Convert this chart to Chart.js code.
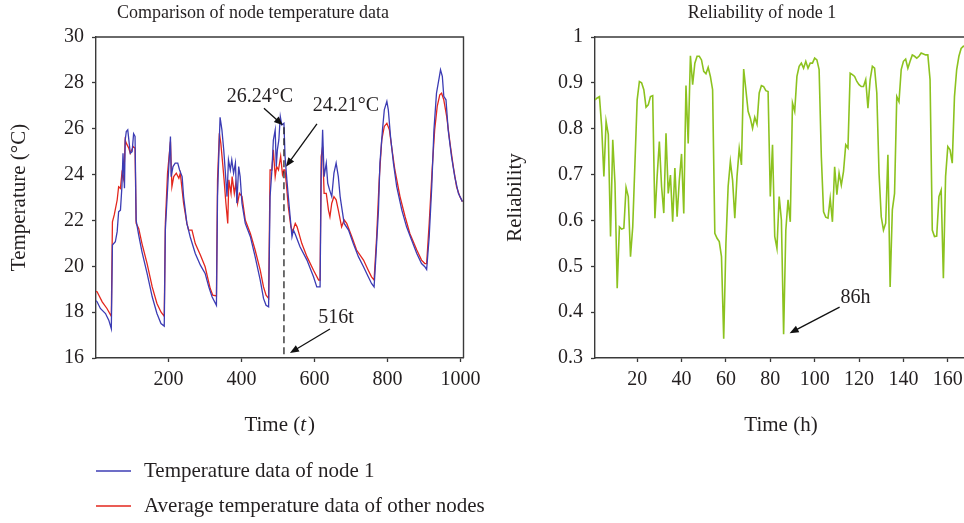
<!DOCTYPE html>
<html><head><meta charset="utf-8">
<script src="https://cdn.jsdelivr.net/npm/chart.js@4.4.1/dist/chart.umd.min.js"></script>
<style>
html,body{margin:0;padding:0;background:#fff;overflow:hidden;width:964px;height:523px;}
#c1{position:absolute;left:0;top:0;}
#c2{position:absolute;left:490px;top:0;}
</style></head><body>
<canvas id="c1" width="490" height="523"></canvas>
<canvas id="c2" width="490" height="523"></canvas>
<script>
// ---------- data: left chart ----------
const node1Time = [1,4,13,27,36,43,46,54,59,63,68,72,75,79,81,84,88,92,95,100,104,108,111,118,127,141,155,168,179,188,
191,196,200,205,207,212,218,225,230,237,241,250,259,273,287,300,310,319,331,
334,338,341,346,351,355,360,364,369,373,378,383,387,392,396,401,410,424,437,451,460,467,474,
478,483,487,492,495,498,502,506,510,516,519,524,528,533,538,542,547,560,579,597,606,615,
618,622,626,632,636,641,647,653,659,665,670,674,681,693,706,720,734,747,756,763,
768,775,779,786,791,798,802,808,816,825,839,852,866,880,893,902,907,
914,921,927,934,942,945,950,954,960,966,975,984,994,1005];
const node1Temp = [18.5,18.45,18.16,17.94,17.65,17.28,20.93,21.07,21.51,22.38,22.45,23.47,24.93,23.4,25.5,25.88,25.95,25.37,24.93,25.0,25.78,25.66,22.0,21.36,20.63,19.69,18.67,17.94,17.5,17.39,
21.58,23.04,24.2,25.66,23.91,24.35,24.5,24.5,24.2,23.91,23.04,21.87,21.29,20.56,20.05,19.69,19.1,18.67,18.3,
23.04,25.08,26.5,25.95,25.08,24.2,23.04,24.64,24.2,24.64,24.06,24.5,22.75,24.35,23.91,22.75,21.87,21.29,20.42,19.4,18.6,18.3,18.23,
23.04,24.2,25.51,25.95,24.35,25.08,25.51,26.53,26.17,26.24,24.8,23.77,23.04,22.16,21.29,21.58,21.4,20.85,20.27,19.54,19.1,19.1,
23.91,25.95,23.91,24.5,23.62,23.33,23.04,24.06,24.5,23.91,23.04,22.6,21.87,21.58,20.99,20.42,19.98,19.54,19.25,19.1,
20.42,22.45,24.5,25.95,26.82,27.19,26.82,25.66,24.5,23.47,22.45,21.72,21.14,20.56,20.12,19.98,19.86,
21.29,23.47,25.95,27.55,28.28,28.57,28.28,27.41,27.26,25.95,24.8,23.91,23.18,22.82];
const avgTime = [1,4,18,31,43,46,51,59,63,68,72,77,81,84,91,95,103,108,111,118,127,141,155,168,179,188,
191,197,205,209,214,221,228,232,241,250,255,264,273,287,300,314,321,331,
334,339,343,348,352,357,362,365,371,374,380,384,389,394,401,410,424,437,451,460,467,474,
478,483,487,492,496,501,507,512,516,519,524,528,535,540,547,552,565,579,597,611,615,
618,622,626,632,638,642,647,653,659,665,674,681,688,702,715,734,747,756,763,
770,777,784,791,798,805,811,820,834,848,861,880,893,902,907,
914,922,929,936,943,948,954,962,971,980,989,998,1005];
const avgTemp = [18.9,18.89,18.45,18.16,17.82,21.94,22.24,22.89,23.47,23.4,24.06,23.77,25.51,25.37,25.15,24.93,25.22,25.15,21.87,21.65,20.99,20.12,19.1,18.38,18.01,17.82,
21.87,24.06,25.44,23.47,23.91,24.06,23.84,24.06,22.75,21.87,21.58,21.58,20.99,20.49,19.98,19.03,18.74,18.71,
23.77,25.8,25.37,24.5,23.77,22.75,21.87,23.77,23.18,23.91,23.18,23.62,22.75,23.18,23.04,22.02,21.43,20.71,19.83,19.1,18.74,18.6,
24.2,24.2,25.08,23.91,24.35,24.2,24.8,24.0,24.21,24.2,23.33,22.6,21.72,21.51,21.87,21.72,20.99,20.42,19.83,19.4,19.4,
24.78,25.22,23.18,23.18,22.45,22.16,22.75,23.04,22.9,22.45,21.72,22.02,21.87,21.29,20.71,20.27,19.83,19.54,19.4,
21.29,23.77,25.51,26.1,26.24,25.95,25.22,24.2,23.04,22.16,21.43,20.71,20.27,20.12,20.12,
21.87,24.2,25.95,26.97,27.48,27.55,27.26,26.53,25.37,24.35,23.47,23.04,22.82];
const tempTicks = [16,18,20,22,24,26,28,30];
const timeTicks = [200,400,600,800,1000];
const seriesNames = ['Temperature data of node 1','Average temperature data of other nodes'];
const markTime = 516, markPeak = 26.24, markAvg = 24.21;

// ---------- data: right chart ----------
const hours = [1,2,3,4,5,6,7,8,9,10,11,12,13,14,15,16,17,18,19,20,21,22,23,24,25,26,27,28,29,30,
31,32,33,34,35,36,37,38,39,40,41,42,43,44,45,46,47,48,49,50,51,52,53,54,55,56,57,58,59,60,
61,62,63,64,65,66,67,68,69,70,71,72,73,74,75,76,77,78,79,80,81,82,83,84,85,86,87,88,89,90,
91,92,93,94,95,96,97,98,99,100,101,102,103,104,105,106,107,108,109,110,111,112,113,114,115,116,117,118,119,120,
121,122,123,124,125,126,127,128,129,130,131,132,133,134,135,136,137,138,139,140,141,142,143,144,145,146,147,148,149,150,
151,152,153,154,155,156,157,158,159,160,161,162,163,164,165,166,167,168];
const reliability = [0.863,0.867,0.87,0.805,0.696,0.816,0.787,0.565,0.776,0.681,
0.452,0.586,0.581,0.583,0.672,0.652,0.521,0.586,0.725,0.863,
0.903,0.9,0.885,0.847,0.852,0.87,0.872,0.605,0.696,0.772,
0.674,0.616,0.79,0.659,0.699,0.597,0.714,0.608,0.688,0.745,
0.615,0.894,0.768,0.959,0.896,0.943,0.958,0.958,0.95,0.925,
0.92,0.934,0.914,0.885,0.572,0.561,0.554,0.521,0.342,0.55,
0.674,0.728,0.688,0.605,0.696,0.757,0.721,0.93,0.885,0.838,
0.823,0.801,0.825,0.81,0.878,0.894,0.892,0.883,0.881,0.652,
0.765,0.565,0.539,0.652,0.601,0.352,0.579,0.645,0.597,0.856,
0.838,0.914,0.936,0.943,0.932,0.947,0.932,0.943,0.943,0.954,
0.95,0.929,0.739,0.619,0.607,0.605,0.648,0.597,0.717,0.656,
0.703,0.677,0.707,0.765,0.758,0.921,0.918,0.914,0.903,0.896,
0.892,0.892,0.907,0.845,0.907,0.936,0.932,0.878,0.703,0.608,
0.579,0.594,0.743,0.455,0.623,0.659,0.87,0.859,0.929,0.947,
0.952,0.932,0.947,0.961,0.958,0.954,0.958,0.965,0.963,0.961,
0.961,0.907,0.579,0.565,0.566,0.652,0.666,0.474,0.696,0.761,
0.754,0.725,0.87,0.929,0.958,0.975,0.98,0.978];
const relTicks = [0.3,0.4,0.5,0.6,0.7,0.8,0.9,1];
const hourTicks = [20,40,60,80,100,120,140,160];
const markHour = 86;

// ---------- styling ----------
const FONT = "'Liberation Serif','Times New Roman',serif";
const TXT = '#231f20';
const AX = '#3a3a3a';
const TICK = 20, LAB = 21, TTL = 18;

function arrow(ctx, x1, y1, x2, y2) {
  const a = Math.atan2(y2 - y1, x2 - x1), L = 9, W = 3.6;
  ctx.save();
  ctx.strokeStyle = '#111'; ctx.fillStyle = '#111'; ctx.lineWidth = 1.3;
  ctx.beginPath(); ctx.moveTo(x1, y1);
  ctx.lineTo(x2 - Math.cos(a) * L * 0.8, y2 - Math.sin(a) * L * 0.8); ctx.stroke();
  ctx.beginPath(); ctx.moveTo(x2, y2);
  ctx.lineTo(x2 - Math.cos(a) * L + Math.sin(a) * W, y2 - Math.sin(a) * L - Math.cos(a) * W);
  ctx.lineTo(x2 - Math.cos(a) * L - Math.sin(a) * W, y2 - Math.sin(a) * L + Math.cos(a) * W);
  ctx.closePath(); ctx.fill();
  ctx.restore();
}
function text(ctx, s, x, y, size, align) {
  ctx.save();
  ctx.font = size + 'px ' + FONT; ctx.fillStyle = TXT;
  ctx.textAlign = align || 'center'; ctx.textBaseline = 'middle';
  ctx.fillText(s, x, y); ctx.restore();
}
function frame(chart) {
  const ctx = chart.ctx, a = chart.chartArea;
  ctx.save(); ctx.strokeStyle = AX; ctx.lineWidth = 1.4;
  ctx.beginPath();
  ctx.moveTo(a.left, a.top); ctx.lineTo(a.right, a.top); ctx.lineTo(a.right, a.bottom);
  ctx.stroke(); ctx.restore();
}

const leftDecor = {
  id: 'leftDecor',
  afterDraw(chart) {
    const ctx = chart.ctx, xs = chart.scales.x, ys = chart.scales.y, a = chart.chartArea;
    frame(chart);
    text(ctx, 'Comparison of node temperature data', 253, 13, TTL);
    // y title
    ctx.save(); ctx.translate(19, (a.top + a.bottom) / 2); ctx.rotate(-Math.PI / 2);
    text(ctx, 'Temperature (\u00B0C)', 0, 0, LAB); ctx.restore();
    // x title with italic t
    ctx.save();
    const f = LAB + 'px ' + FONT, fi = 'italic ' + LAB + 'px ' + FONT;
    ctx.font = f; const w1 = ctx.measureText('Time (').width, w3 = ctx.measureText(')').width;
    ctx.font = fi; const w2 = ctx.measureText('t').width + 2;
    let x0 = (a.left + a.right) / 2 - (w1 + w2 + w3) / 2;
    ctx.fillStyle = TXT; ctx.textBaseline = 'middle'; ctx.textAlign = 'left';
    ctx.font = f; ctx.fillText('Time (', x0, 425);
    ctx.font = fi; ctx.fillText('t', x0 + w1, 425);
    ctx.font = f; ctx.fillText(')', x0 + w1 + w2, 425);
    ctx.restore();
    // legend
    chart.data.datasets.forEach((ds, i) => {
      const y = 471 + i * 35;
      ctx.save(); ctx.strokeStyle = ds.borderColor; ctx.lineWidth = 1.3;
      ctx.beginPath(); ctx.moveTo(96, y); ctx.lineTo(131, y); ctx.stroke(); ctx.restore();
      text(ctx, ds.label, 144, y, LAB, 'left');
    });
    // annotations
    const px = xs.getPixelForValue(markTime);
    const pPeak = ys.getPixelForValue(markPeak), pAvg = ys.getPixelForValue(markAvg);
    ctx.save(); ctx.strokeStyle = '#222'; ctx.lineWidth = 1.3; ctx.setLineDash([7, 4]);
    ctx.beginPath(); ctx.moveTo(px, pPeak + 4); ctx.lineTo(px, a.bottom); ctx.stroke(); ctx.restore();
    text(ctx, markPeak.toFixed(2) + '\u00B0C', px - 24, pPeak - 26, TICK);
    arrow(ctx, px - 20, pPeak - 15, px - 1, pPeak + 2);
    text(ctx, markAvg.toFixed(2) + '\u00B0C', px + 62, pAvg - 64, TICK);
    arrow(ctx, px + 33, pAvg - 46, px + 2, pAvg - 3);
    text(ctx, markTime + 't', px + 52, a.bottom - 40, TICK);
    arrow(ctx, px + 46, a.bottom - 29, px + 6, a.bottom - 5);
  }
};

const rightDecor = {
  id: 'rightDecor',
  afterDraw(chart) {
    const ctx = chart.ctx, xs = chart.scales.x, ys = chart.scales.y, a = chart.chartArea;
    frame(chart);
    text(ctx, 'Reliability of node 1', 272, 13, TTL);
    ctx.save(); ctx.translate(25, (a.top + a.bottom) / 2); ctx.rotate(-Math.PI / 2);
    text(ctx, 'Reliability', 0, 0, LAB); ctx.restore();
    text(ctx, 'Time (h)', 291, 425, LAB);
    const px = xs.getPixelForValue(markHour), py = ys.getPixelForValue(reliability[hours.indexOf(markHour)]);
    text(ctx, markHour + 'h', px + 72, py - 36, TICK);
    arrow(ctx, px + 56, py - 27, px + 6, py - 1);
  }
};

function axisCommon(extra) {
  return Object.assign({
    grid: { display: true, drawOnChartArea: false, drawTicks: true, tickLength: 4, color: AX, tickWidth: 1.3 },
    border: { display: true, color: AX, width: 1.4 },
  }, extra);
}

new Chart(document.getElementById('c1'), {
  type: 'line',
  data: {
    datasets: [
      { label: seriesNames[0], data: node1Time.map((t, i) => ({ x: t, y: node1Temp[i] })),
        borderColor: '#3c3cb4', borderWidth: 1.3, pointRadius: 0, tension: 0, fill: false },
      { label: seriesNames[1], data: avgTime.map((t, i) => ({ x: t, y: avgTemp[i] })),
        borderColor: '#e3261d', borderWidth: 1.3, pointRadius: 0, tension: 0, fill: false }
    ]
  },
  options: {
    responsive: false, animation: false, devicePixelRatio: 1,
    layout: { padding: { left: 0, top: 37, right: 26.5, bottom: 105 } },
    plugins: { legend: { display: false }, title: { display: false }, tooltip: { enabled: false } },
    scales: {
      x: axisCommon({
        type: 'linear', min: 1, max: 1008,
        afterBuildTicks: s => { s.ticks = timeTicks.map(v => ({ value: v })); },
        ticks: { font: { family: FONT, size: TICK }, color: TXT, padding: 6, maxRotation: 0, autoSkip: false,
          callback: v => String(v) },
        afterFit: s => { s.height = 60; }
      }),
      y: axisCommon({
        type: 'linear', min: 16, max: 30,
        afterBuildTicks: s => { s.ticks = tempTicks.map(v => ({ value: v })); },
        ticks: { font: { family: FONT, size: TICK }, color: TXT, padding: 8, autoSkip: false,
          callback: v => String(v) },
        afterFit: s => { s.width = 96; }
      })
    }
  },
  plugins: [leftDecor]
});

new Chart(document.getElementById('c2'), {
  type: 'line',
  data: {
    datasets: [
      { label: 'Reliability of node 1', data: hours.map((h, i) => ({ x: h, y: reliability[i] })),
        borderColor: '#8cc21f', borderWidth: 1.6, pointRadius: 0, tension: 0, fill: false }
    ]
  },
  options: {
    responsive: false, animation: false, devicePixelRatio: 1,
    layout: { padding: { left: 0, top: 37, right: 10, bottom: 105 } },
    plugins: { legend: { display: false }, title: { display: false }, tooltip: { enabled: false } },
    scales: {
      x: axisCommon({
        type: 'linear', min: 1, max: 170,
        afterBuildTicks: s => { s.ticks = hourTicks.map(v => ({ value: v })); },
        ticks: { font: { family: FONT, size: TICK }, color: TXT, padding: 6, maxRotation: 0, autoSkip: false,
          callback: v => String(v) },
        afterFit: s => { s.height = 60; }
      }),
      y: axisCommon({
        type: 'linear', min: 0.3, max: 1,
        afterBuildTicks: s => { s.ticks = relTicks.map(v => ({ value: v })); },
        ticks: { font: { family: FONT, size: TICK }, color: TXT, padding: 8, autoSkip: false,
          callback: v => String(Number(v.toFixed(1))) },
        afterFit: s => { s.width = 105; }
      })
    }
  },
  plugins: [rightDecor]
});
</script>
</body></html>
